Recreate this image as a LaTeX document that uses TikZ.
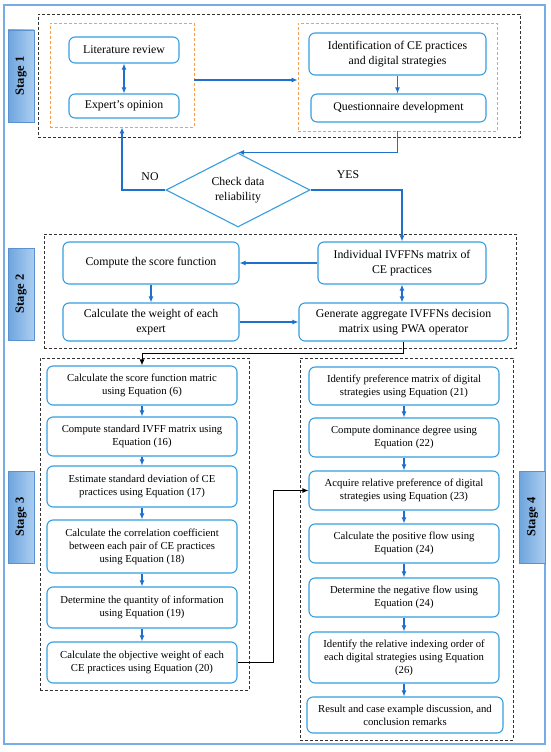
\documentclass[tikz,border=0pt]{standalone}
\usepackage{fontspec}
\setmainfont{Liberation Serif}
\usetikzlibrary{shapes.geometric,arrows.meta,calc}
\definecolor{boxblue}{RGB}{52,158,225}
\definecolor{arrblue}{RGB}{31,111,205}
\definecolor{outerblue}{RGB}{120,172,228}
\definecolor{orangeD}{RGB}{245,160,80}
\definecolor{labL}{RGB}{110,165,222}
\definecolor{labR}{RGB}{172,206,240}
\definecolor{labB}{RGB}{90,145,210}
\definecolor{dashgray}{RGB}{50,50,50}
\tikzset{
  bigtxt/.style={font=\fontsize{11.8}{14.5}\selectfont},
  smalltxt/.style={font=\fontsize{10.7}{13}\selectfont},
  pbox/.style={draw=boxblue, line width=1.1pt, rounded corners=6pt, align=center, inner sep=1pt, text=black},
  grp/.style={draw=dashgray, line width=0.9pt, dash pattern=on 3pt off 2pt},
  ogrp/.style={draw=orangeD, line width=0.9pt, dash pattern=on 3pt off 2pt},
  stagelab/.style={left color=labL, right color=labR, draw=labB, line width=0.4pt,
     minimum width=26pt, minimum height=92pt, inner sep=0pt, font=\fontsize{12.5}{14}\selectfont\bfseries},
  arr/.style={draw=arrblue, line width=1.1pt, -{Latex[length=6pt,width=5pt]}},
  darr/.style={draw=arrblue, line width=1.1pt, {Latex[length=6pt,width=5pt]}-{Latex[length=6pt,width=5pt]}},
  blkarr/.style={draw=black, line width=1pt, -{Latex[length=6pt,width=5pt]}},
}
\begin{document}
\begin{tikzpicture}[x=1pt,y=-1pt]
\path[use as bounding box] (0,0) rectangle (550,752);
\node[draw=outerblue, line width=1.3pt, minimum width=541pt, minimum height=739pt, inner sep=0pt] (outer) at (274.5,374.5) {};

% ---------------- Stage 1
\node[grp, minimum width=482pt, minimum height=123pt, inner sep=0pt] (g1) at (279,75.5) {};
\node[stagelab] (st1) at (21,76) {\rotatebox{90}{Stage 1}};
\node[ogrp, minimum width=144pt, minimum height=104pt, inner sep=0pt] (orL) at (122,75) {};
\node[ogrp, minimum width=199pt, minimum height=108pt, inner sep=0pt] (orR) at (397.5,77) {};
\node[pbox, bigtxt, minimum width=110pt, minimum height=26pt] (lit) at (124,50) {Literature review};
\node[pbox, bigtxt, minimum width=110pt, minimum height=24pt] (exp) at (124,106) {Expert’s opinion};
\node[pbox, bigtxt, minimum width=177pt, minimum height=42pt] (ident) at (397.5,54) {Identification of CE practices\\and digital strategies};
\node[pbox, bigtxt, minimum width=175pt, minimum height=28pt] (quest) at (398.5,108) {Questionnaire development};

\draw[darr] (lit) -- (exp);
\coordinate (a1) at ($(orL.east)+(0,5)$);
\draw[arr] (a1) -- (a1 -| orR.west);
\draw[arr] (ident.south) -- (ident.south |- quest.north);

% ---------------- Decision
\node[draw=boxblue, line width=1.1pt, shape=diamond, aspect=2, minimum width=144pt, minimum height=74pt, inner sep=0pt, align=center, bigtxt] (dia) at (238,190) {Check data\\reliability};
\node[bigtxt, inner sep=0pt] (no) at (150,177) {NO};
\node[bigtxt, inner sep=0pt] (yes) at (348,175) {YES};
\draw[arr] (orR.south) |- (dia.north);
\draw[arr] (dia.west) -| (orL.south);

% ---------------- Stage 2
\node[grp, minimum width=472pt, minimum height=114pt, inner sep=0pt] (g2) at (280,291) {};
\node[stagelab] (st2) at (21,294) {\rotatebox{90}{Stage 2}};
\node[pbox, bigtxt, minimum width=176pt, minimum height=42pt] (score) at (151,263) {Compute the score function};
\node[pbox, bigtxt, minimum width=168pt, minimum height=42pt] (indiv) at (402,263) {Individual IVFFNs matrix of\\CE practices};
\node[pbox, bigtxt, minimum width=176pt, minimum height=38pt] (weight) at (151,322) {Calculate the weight of each\\expert};
\node[pbox, bigtxt, minimum width=209pt, minimum height=38pt] (gen) at (403.5,322) {Generate aggregate IVFFNs decision\\matrix using PWA operator};
\draw[arr] (dia.east) -| (indiv.north);
\draw[arr] (indiv) -- (score);
\draw[arr] (score) -- (weight);
\draw[arr] (weight) -- (gen);
\draw[darr] (indiv.south) -- (indiv.south |- gen.north);

% ---------------- Stage 3
\node[grp, minimum width=209pt, minimum height=332pt, inner sep=0pt] (g3) at (144.5,524) {};
\node[stagelab] (st3) at (21,517) {\rotatebox{90}{Stage 3}};
\node[pbox, smalltxt, minimum width=190pt, minimum height=39pt] (s3a) at (142,385.5) {Calculate the score function matric\\using Equation (6)};
\node[pbox, smalltxt, minimum width=190pt, minimum height=39pt] (s3b) at (142,436.5) {Compute standard IVFF matrix using\\Equation (16)};
\node[pbox, smalltxt, minimum width=190pt, minimum height=41pt] (s3c) at (142,486.5) {Estimate standard deviation of CE\\practices using Equation (17)};
\node[pbox, smalltxt, minimum width=190pt, minimum height=53pt] (s3d) at (142,546.5) {Calculate the correlation coefficient\\between each pair of CE practices\\using Equation (18)};
\node[pbox, smalltxt, minimum width=190pt, minimum height=41pt] (s3e) at (142,607.5) {Determine the quantity of information\\using Equation (19)};
\node[pbox, smalltxt, minimum width=190pt, minimum height=41pt] (s3f) at (142,662.5) {Calculate the objective weight of each\\CE practices using Equation (20)};
\draw[arr] (s3a) -- (s3b);
\draw[arr] (s3b) -- (s3c);
\draw[arr] (s3c) -- (s3d);
\draw[arr] (s3d) -- (s3e);
\draw[arr] (s3e) -- (s3f);

% ---------------- Stage 4
\node[grp, minimum width=213pt, minimum height=382pt, inner sep=0pt] (g4) at (406.5,549) {};
\node[stagelab] (st4) at (532.5,517) {\rotatebox{90}{Stage 4}};
\node[pbox, smalltxt, minimum width=190pt, minimum height=38pt] (s4a) at (404,386) {Identify preference matrix of digital\\strategies using Equation (21)};
\node[pbox, smalltxt, minimum width=190pt, minimum height=39pt] (s4b) at (404,437.5) {Compute dominance degree using\\Equation (22)};
\node[pbox, smalltxt, minimum width=190pt, minimum height=39pt] (s4c) at (404,490.5) {Acquire relative preference of digital\\strategies using Equation (23)};
\node[pbox, smalltxt, minimum width=190pt, minimum height=39pt] (s4d) at (404,543.5) {Calculate the positive flow using\\Equation (24)};
\node[pbox, smalltxt, minimum width=190pt, minimum height=39pt] (s4e) at (404,597.5) {Determine the negative flow using\\Equation (24)};
\node[pbox, smalltxt, minimum width=190pt, minimum height=51pt] (s4f) at (404,657.5) {Identify the relative indexing order of\\each digital strategies using Equation\\(26)};
\node[pbox, smalltxt, minimum width=196pt, minimum height=36pt] (s4g) at (405,715) {Result and case example discussion, and\\conclusion remarks};
\draw[arr] (s4a) -- (s4b);
\draw[arr] (s4b) -- (s4c);
\draw[arr] (s4c) -- (s4d);
\draw[arr] (s4d) -- (s4e);
\draw[arr] (s4e) -- (s4f);
\draw[arr] (s4f.south) -- (s4f.south |- s4g.north);

% ---------------- black connectors
\coordinate (j2) at (0,353);
\coordinate (j3) at (273,0);
\draw[blkarr] (gen.south) -- (gen.south |- j2) -- (s3a.north |- j2) -- (s3a.north);
\draw[blkarr] (s3f.east) -- (s3f.east -| j3) |- (s4c.west);
\end{tikzpicture}
\end{document}
